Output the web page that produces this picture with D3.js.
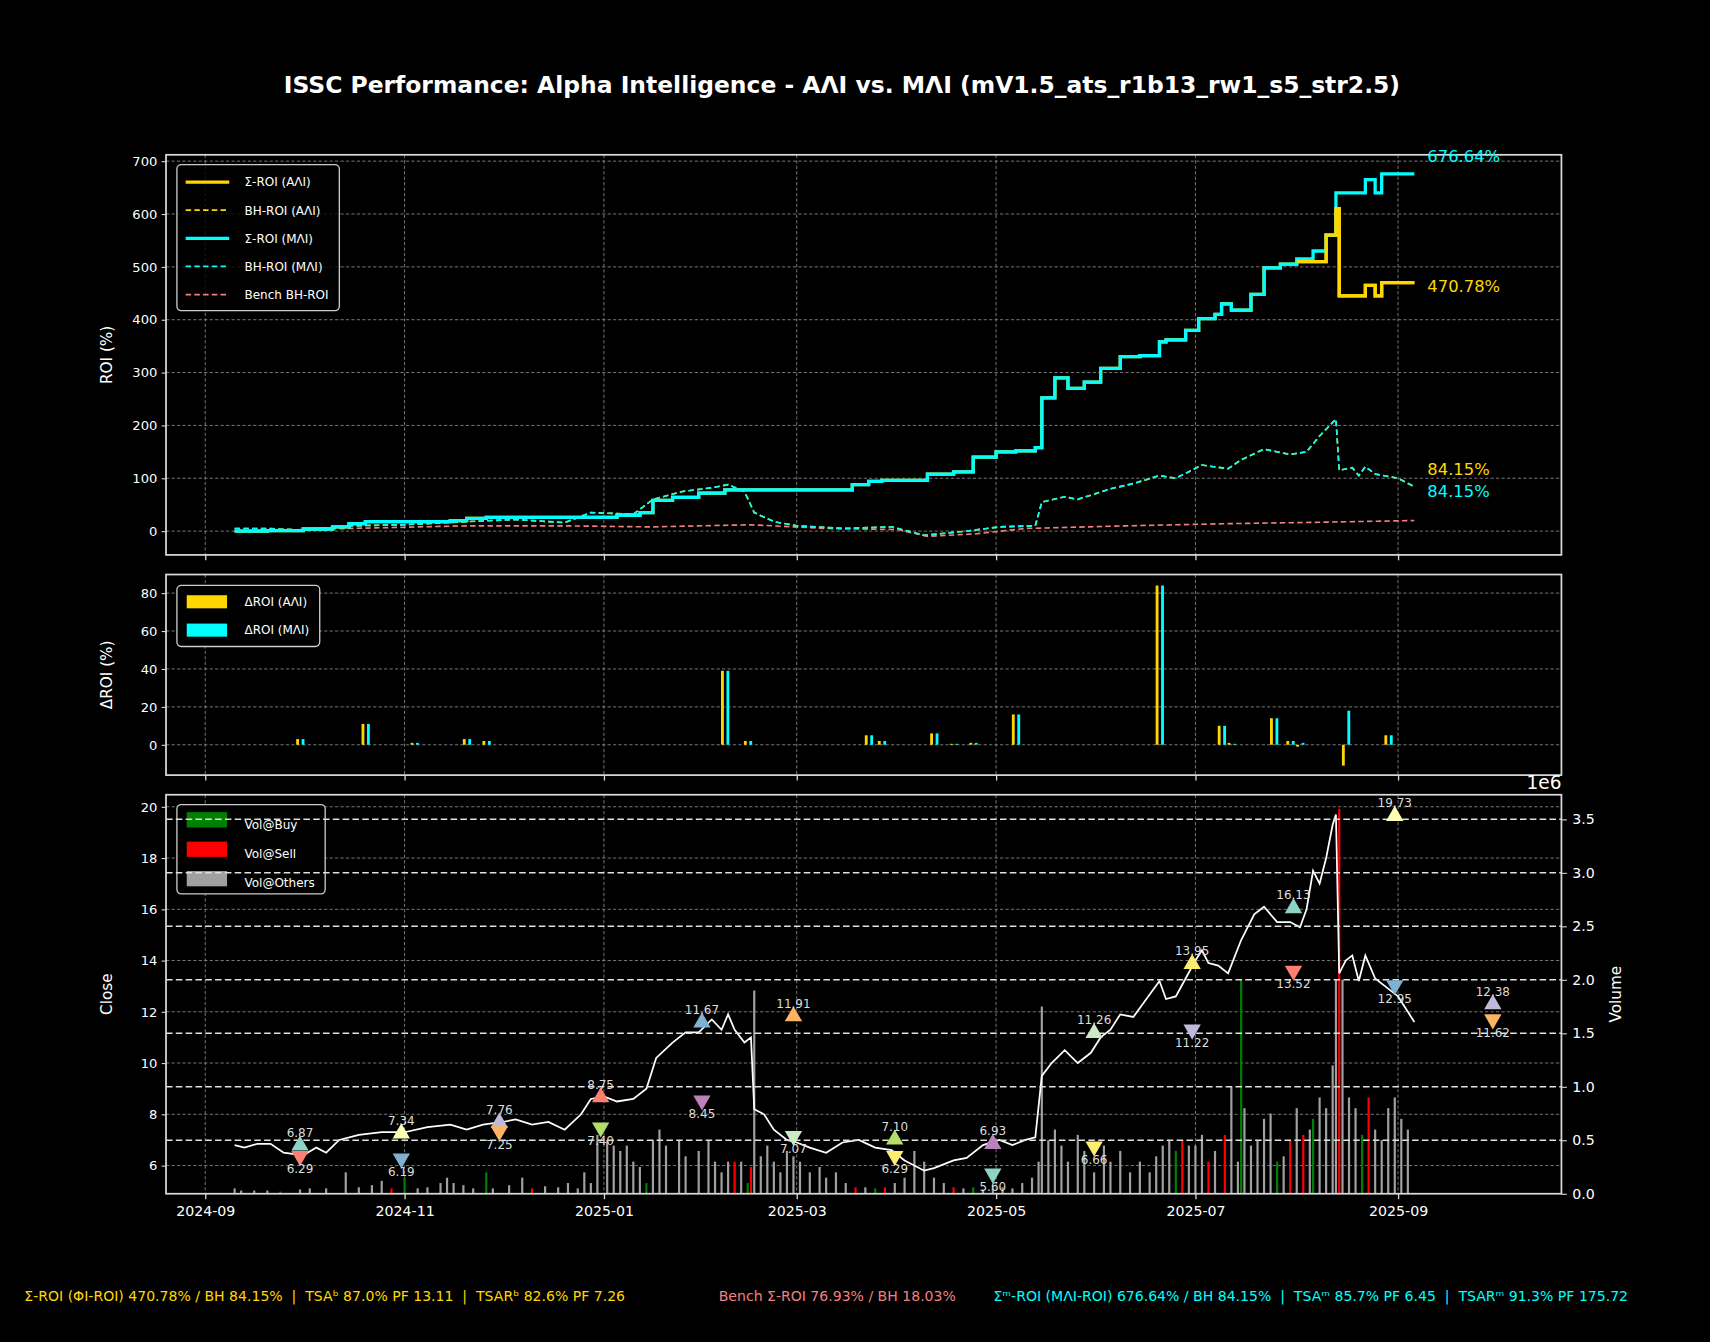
<!DOCTYPE html>
<html><head><meta charset="utf-8">
<script src="https://cdn.jsdelivr.net/npm/d3@7"></script>
<style>html,body{margin:0;background:#000;}svg{display:block;font-family:"DejaVu Sans",sans-serif;}</style>
</head><body>
<svg id="c" width="1710" height="1342" viewBox="0 0 1568 1231"></svg>
<script>
// ---------- DATA ----------
const roiDates = ["2024-09-10","2024-09-20","2024-10-01","2024-10-10","2024-10-15","2024-10-20","2024-11-01","2024-11-15","2024-11-20","2024-11-26","2024-12-10","2024-12-24","2025-01-05","2025-01-12","2025-01-16","2025-01-22","2025-01-30","2025-02-07","2025-02-14","2025-03-10","2025-03-18","2025-03-23","2025-03-27","2025-04-10","2025-04-18","2025-04-24","2025-05-01","2025-05-07","2025-05-13","2025-05-15","2025-05-19","2025-05-23","2025-05-28","2025-06-02","2025-06-08","2025-06-14","2025-06-20","2025-06-22","2025-06-28","2025-07-02","2025-07-07","2025-07-09","2025-07-12","2025-07-18","2025-07-22","2025-07-27","2025-08-01","2025-08-06","2025-08-10","2025-08-13","2025-08-14","2025-08-20","2025-08-22","2025-08-25","2025-08-27","2025-09-06"];
const roiMAI   = [0,1,4,8,14,18,18,20,24,26,26,26,30,35,58,64,72,78,78,78,88,94,96,108,112,140,150,152,158,252,290,270,282,308,330,332,358,362,380,402,410,430,418,448,498,505,515,530,560,640,640,640,665,640,676,676];
const roiAAI   = [0,1,4,8,14,18,18,20,24,26,26,26,30,35,58,64,72,78,78,78,88,94,96,108,112,140,150,152,158,252,290,270,282,308,330,332,358,362,380,402,410,430,418,448,498,505,510,510,560,610,445,445,465,445,470,470];

const bhDates = ["2024-09-10","2024-09-20","2024-10-01","2024-10-15","2024-11-01","2024-11-20","2024-12-05","2024-12-20","2024-12-28","2025-01-10","2025-01-16","2025-01-25","2025-02-03","2025-02-08","2025-02-13","2025-02-16","2025-02-22","2025-03-01","2025-03-15","2025-03-30","2025-04-09","2025-04-22","2025-05-02","2025-05-13","2025-05-15","2025-05-22","2025-05-26","2025-06-05","2025-06-12","2025-06-20","2025-06-25","2025-07-03","2025-07-11","2025-07-15","2025-07-22","2025-07-30","2025-08-04","2025-08-08","2025-08-13","2025-08-14","2025-08-18","2025-08-20","2025-08-22","2025-08-25","2025-09-01","2025-09-06"];
const bhROI = [5,5,2,10,12,18,22,16,35,32,60,75,82,88,75,35,18,10,5,8,-8,0,8,10,55,65,60,80,90,105,100,125,118,135,155,145,150,180,212,115,120,105,122,108,100,84];

const benchDates = ["2024-09-10","2024-10-15","2024-11-20","2024-12-20","2025-01-15","2025-02-15","2025-03-10","2025-04-01","2025-04-10","2025-04-25","2025-05-10","2025-06-10","2025-07-10","2025-08-10","2025-09-06"];
const benchROI = [0,5,10,10,8,12,5,3,-10,-5,5,10,14,17,20];

const dDates = ["2024-09-30","2024-10-20","2024-11-04","2024-11-20","2024-11-26","2025-02-07","2025-02-14","2025-03-23","2025-03-27","2025-04-12","2025-04-18","2025-04-24","2025-05-07","2025-06-20","2025-07-09","2025-07-12","2025-07-25","2025-07-30","2025-08-02","2025-08-16","2025-08-29"];
const dAAI = [3,11,1,3,2,39,2,5,2,6,0.5,1,16,84,10,1,14,2,-1,-11,5];
const dMAI = [3,11,1,3,2,39,2,5,2,6,0.5,1,16,84,10,0.5,14,2,1,18,5];

const pxDates = ["2024-09-10","2024-09-13","2024-09-17","2024-09-21","2024-09-25","2024-10-01","2024-10-05","2024-10-08","2024-10-12","2024-10-18","2024-10-25","2024-11-01","2024-11-08","2024-11-15","2024-11-20","2024-11-25","2024-12-01","2024-12-05","2024-12-10","2024-12-15","2024-12-20","2024-12-25","2024-12-28","2025-01-01","2025-01-05","2025-01-10","2025-01-14","2025-01-17","2025-01-22","2025-01-26","2025-01-30","2025-02-03","2025-02-06","2025-02-08","2025-02-10","2025-02-13","2025-02-15","2025-02-16","2025-02-19","2025-02-22","2025-02-26","2025-03-01","2025-03-05","2025-03-10","2025-03-15","2025-03-20","2025-03-25","2025-03-30","2025-04-03","2025-04-06","2025-04-09","2025-04-12","2025-04-18","2025-04-22","2025-04-27","2025-05-02","2025-05-06","2025-05-10","2025-05-13","2025-05-15","2025-05-18","2025-05-22","2025-05-26","2025-05-30","2025-06-02","2025-06-05","2025-06-08","2025-06-12","2025-06-16","2025-06-20","2025-06-22","2025-06-25","2025-06-28","2025-07-01","2025-07-03","2025-07-05","2025-07-08","2025-07-11","2025-07-15","2025-07-19","2025-07-22","2025-07-26","2025-07-30","2025-08-02","2025-08-04","2025-08-06","2025-08-08","2025-08-10","2025-08-12","2025-08-13","2025-08-14","2025-08-16","2025-08-18","2025-08-20","2025-08-22","2025-08-25","2025-08-28","2025-09-01","2025-09-04","2025-09-06"];
const close = [6.8,6.7,6.85,6.85,6.5,6.4,6.7,6.5,7.0,7.2,7.3,7.3,7.5,7.6,7.4,7.6,7.7,7.8,7.6,7.7,7.4,8.0,8.6,8.7,8.5,8.6,9.0,10.2,10.8,11.2,11.2,11.7,11.3,11.9,11.3,10.8,11.0,8.2,8.0,7.4,7.0,6.9,6.7,6.5,6.9,7.0,6.7,6.6,6.2,6.0,5.8,5.9,6.2,6.3,6.8,7.0,6.8,7.0,7.1,9.5,10.0,10.5,10.0,10.4,11.0,11.3,11.9,11.8,12.5,13.2,12.5,12.6,13.3,14.0,14.4,13.9,13.8,13.5,14.8,15.8,16.1,15.5,15.5,15.3,16.0,17.5,17.0,18.0,19.3,19.7,13.5,14.0,14.2,13.2,14.2,13.3,13.0,12.6,12.0,11.6];

const volDates = ["2024-09-10","2024-09-12","2024-09-16","2024-09-20","2024-09-24","2024-09-30","2024-10-03","2024-10-08","2024-10-14","2024-10-18","2024-10-22","2024-10-25","2024-10-28","2024-11-01","2024-11-05","2024-11-08","2024-11-12","2024-11-14","2024-11-16","2024-11-19","2024-11-22","2024-11-26","2024-11-28","2024-12-03","2024-12-07","2024-12-10","2024-12-14","2024-12-18","2024-12-21","2024-12-24","2024-12-26","2024-12-28","2024-12-30","2025-01-02","2025-01-04","2025-01-06","2025-01-08","2025-01-10","2025-01-12","2025-01-14","2025-01-16","2025-01-18","2025-01-20","2025-01-24","2025-01-26","2025-01-30","2025-02-02","2025-02-04","2025-02-06","2025-02-08","2025-02-10","2025-02-12","2025-02-14","2025-02-15","2025-02-16","2025-02-18","2025-02-20","2025-02-22","2025-02-24","2025-02-26","2025-02-28","2025-03-02","2025-03-05","2025-03-08","2025-03-10","2025-03-13","2025-03-16","2025-03-19","2025-03-22","2025-03-25","2025-03-28","2025-03-31","2025-04-03","2025-04-06","2025-04-09","2025-04-12","2025-04-15","2025-04-18","2025-04-21","2025-04-24","2025-04-27","2025-04-30","2025-05-03","2025-05-06","2025-05-09","2025-05-12","2025-05-14","2025-05-15","2025-05-17","2025-05-19","2025-05-21","2025-05-23","2025-05-26","2025-05-28","2025-05-31","2025-06-03","2025-06-05","2025-06-08","2025-06-11","2025-06-14","2025-06-17","2025-06-19","2025-06-21","2025-06-23","2025-06-25","2025-06-27","2025-06-29","2025-07-01","2025-07-03","2025-07-05","2025-07-07","2025-07-10","2025-07-12","2025-07-14","2025-07-15","2025-07-16","2025-07-18","2025-07-20","2025-07-22","2025-07-24","2025-07-26","2025-07-28","2025-07-30","2025-08-01","2025-08-03","2025-08-05","2025-08-06","2025-08-08","2025-08-10","2025-08-12","2025-08-13","2025-08-14","2025-08-15","2025-08-17","2025-08-19","2025-08-21","2025-08-23","2025-08-25","2025-08-27","2025-08-29","2025-08-31","2025-09-02","2025-09-04"];
const volume = [0.05,0.03,0.03,0.03,0.02,0.04,0.05,0.05,0.2,0.06,0.08,0.12,0.05,0.15,0.05,0.06,0.1,0.15,0.1,0.08,0.05,0.2,0.05,0.08,0.15,0.05,0.07,0.06,0.1,0.05,0.2,0.1,0.55,0.5,0.45,0.4,0.45,0.3,0.25,0.1,0.5,0.6,0.45,0.5,0.35,0.4,0.5,0.3,0.2,0.3,0.3,0.3,0.1,0.25,1.9,0.35,0.45,0.3,0.2,0.4,0.35,0.3,0.2,0.25,0.15,0.2,0.1,0.06,0.06,0.05,0.06,0.1,0.15,0.4,0.3,0.15,0.1,0.06,0.05,0.06,0.04,0.05,0.06,0.05,0.1,0.15,0.3,1.75,0.5,0.6,0.45,0.3,0.55,0.4,0.2,0.45,0.3,0.4,0.2,0.3,0.2,0.35,0.45,0.5,0.4,0.5,0.45,0.45,0.55,0.3,0.4,0.55,1.0,0.3,2.0,0.8,0.45,0.5,0.7,0.75,0.3,0.35,0.5,0.8,0.55,0.6,0.7,0.9,0.8,1.2,2.0,3.6,2.0,0.9,0.8,0.55,0.9,0.6,0.5,0.8,0.9,0.7,0.6];
const volType = ["o","o","o","o","b","o","o","o","o","o","o","o","s","b","o","o","o","o","o","o","o","b","o","o","o","s","o","o","o","o","o","o","o","o","o","o","o","o","o","b","o","o","o","o","o","o","o","o","o","o","s","o","b","s","o","o","o","o","o","o","o","o","o","o","o","o","o","s","o","b","s","o","o","o","o","o","o","s","o","b","o","o","o","o","o","o","o","o","o","o","o","o","o","o","o","o","o","o","o","o","o","o","o","o","b","s","o","o","o","s","o","s","o","o","b","o","o","o","o","o","b","o","s","o","s","o","b","o","o","o","o","s","o","o","o","b","s","o","o","o","o","o","o"];

const sigDates = ["2024-09-30","2024-10-31","2024-11-30","2024-12-31","2025-01-31","2025-02-28","2025-03-31","2025-04-30","2025-05-31","2025-06-30","2025-07-31","2025-08-31","2025-09-30"];
const sigHigh = [6.87,7.34,7.76,8.75,11.67,11.91,7.10,6.93,11.26,13.95,16.13,19.73,12.38];
const sigLow  = [6.29,6.19,7.25,7.40,8.45,7.07,6.29,5.60,6.66,11.22,13.52,12.95,11.62];
const sigHighColor = ["#8dd3c7","#ffffb3","#bebada","#fb8072","#80b1d3","#fdb462","#b3de69","#bc80bd","#ccebc5","#ffed6f","#8dd3c7","#ffffb3","#bebada"];
const sigLowColor  = ["#fb8072","#80b1d3","#fdb462","#b3de69","#bc80bd","#ccebc5","#ffed6f","#8dd3c7","#ffed6f","#bebada","#fb8072","#80b1d3","#fdb462"];

const roiTicks = [0,100,200,300,400,500,600,700];
const dTicks = [0,20,40,60,80];
const pxTicks = [6,8,10,12,14,16,18,20];
const volTicks = [0,0.5,1,1.5,2,2.5,3,3.5];
const monthTicks = ["2024-09","2024-11","2025-01","2025-03","2025-05","2025-07","2025-09"];
const endLabels = ["676.64%","470.78%","84.15%","84.15%"];

// ---------- DRAW ----------
const P = d3.timeParse("%Y-%m-%d"), PM = d3.timeParse("%Y-%m");
const svg = d3.select("#c");
const YEL="#FFD700", CY="#00FFFF", BEN="#F08080", FR="#d9d9d9", GR="#9a9a9a";
const L=152, R=1432;
const x = d3.scaleTime().domain([P("2024-08-20"),P("2025-10-21")]).range([L,R]);
const xt = monthTicks.map(PM);

svg.append("rect").attr("width",1568).attr("height",1231).attr("fill","#000");
svg.append("text").attr("x",772).attr("y",85).attr("text-anchor","middle").attr("fill","#fff")
  .attr("font-size",21.5).attr("font-weight","bold")
  .text("ISSC Performance: Alpha Intelligence - AΛI vs. MΛI (mV1.5_ats_r1b13_rw1_s5_str2.5)");

function panel(top,bot,y,ticks,fmt,labelTxt,showX){
  const g=svg.append("g");
  g.selectAll(".vg").data(xt).join("line").attr("x1",d=>x(d)).attr("x2",d=>x(d)).attr("y1",top).attr("y2",bot)
    .attr("stroke",GR).attr("stroke-width",0.7).attr("stroke-dasharray","3,2");
  g.selectAll(".hg").data(ticks).join("line").attr("x1",L).attr("x2",R).attr("y1",d=>y(d)).attr("y2",d=>y(d))
    .attr("stroke",GR).attr("stroke-width",0.7).attr("stroke-dasharray","3,2");
  const ay=svg.append("g").attr("transform",`translate(${L},0)`).call(d3.axisLeft(y).tickValues(ticks).tickFormat(fmt).tickSize(4).tickPadding(4));
  ay.select(".domain").remove(); ay.selectAll("line").attr("stroke",FR);
  ay.selectAll("text").attr("fill","#fff").attr("font-size",12).attr("font-family","DejaVu Sans");
  const ax=svg.append("g").attr("transform",`translate(0,${bot})`).call(d3.axisBottom(x).tickValues(xt).tickFormat(showX?d3.timeFormat("%Y-%m"):"").tickSize(5).tickPadding(6));
  ax.select(".domain").remove(); ax.selectAll("line").attr("stroke",FR).attr("stroke-width",1.2);
  ax.selectAll("text").attr("fill","#fff").attr("font-size",13).attr("font-family","DejaVu Sans");
  svg.append("text").attr("transform",`translate(102,${(top+bot)/2}) rotate(-90)`).attr("text-anchor","middle")
    .attr("fill","#fff").attr("font-size",14).text(labelTxt);
  return g;
}
function frame(top,bot){
  svg.append("rect").attr("x",L).attr("y",top).attr("width",R-L).attr("height",bot-top).attr("fill","none").attr("stroke",FR).attr("stroke-width",1.6);
}
const ln=(dates,vals,y)=>d3.line().x((d,i)=>x(P(dates[i]))).y(d=>y(d))(vals);
const lnStep=(dates,vals,y)=>d3.line().curve(d3.curveStepAfter).x((d,i)=>x(P(dates[i]))).y(d=>y(d))(vals);

// Panel 1
const y1=d3.scaleLinear().domain([-45,712]).range([509,142]);
const g1=panel(142,509,y1,roiTicks,d3.format("d"),"ROI (%)",false);
g1.append("path").attr("d",ln(benchDates,benchROI,y1)).attr("fill","none").attr("stroke",BEN).attr("stroke-width",1.5).attr("stroke-dasharray","5,3");
g1.append("path").attr("d",ln(bhDates,bhROI,y1)).attr("fill","none").attr("stroke",YEL).attr("stroke-width",1.5).attr("stroke-dasharray","5,3");
g1.append("path").attr("d",ln(bhDates,bhROI,y1)).attr("fill","none").attr("stroke",CY).attr("stroke-width",1.5).attr("stroke-dasharray","5,3");
g1.append("path").attr("d",lnStep(roiDates,roiAAI,y1)).attr("fill","none").attr("stroke",YEL).attr("stroke-width",3);
g1.append("path").attr("d",lnStep(roiDates,roiMAI,y1)).attr("fill","none").attr("stroke",CY).attr("stroke-width",3);
const div0=roiDates.indexOf("2025-08-01");
g1.append("path").attr("d",lnStep(roiDates.slice(div0),roiAAI.slice(div0),y1)).attr("fill","none").attr("stroke",YEL).attr("stroke-width",3);
frame(142,509);
[[CY,144],[YEL,263],[YEL,431],[CY,451]].forEach((a,i)=>svg.append("text").attr("x",1309).attr("y",a[1]+5).attr("fill",a[0]).attr("font-size",15).text(endLabels[i]));
// legend 1
const lg1=svg.append("g");
lg1.append("rect").attr("x",162).attr("y",151).attr("width",149).attr("height",134).attr("rx",4).attr("fill","#000").attr("fill-opacity",0.8).attr("stroke","#ccc").attr("stroke-width",1.2);
const l1=[["Σ-ROI (AΛI)",YEL,3,null],["BH-ROI (AΛI)",YEL,1.5,"5,3"],["Σ-ROI (MΛI)",CY,3,null],["BH-ROI (MΛI)",CY,1.5,"5,3"],["Bench BH-ROI",BEN,1.5,"5,3"]];
l1.forEach((d,i)=>{const yy=167+i*25.8;
  lg1.append("line").attr("x1",170).attr("x2",210).attr("y1",yy).attr("y2",yy).attr("stroke",d[1]).attr("stroke-width",d[2]).attr("stroke-dasharray",d[3]);
  lg1.append("text").attr("x",224).attr("y",yy+4).attr("fill","#fff").attr("font-size",11).text(d[0]);});

// Panel 2
const y2=d3.scaleLinear().domain([-16,89.8]).range([711,527]);
const g2=panel(527,711,y2,dTicks,d3.format("d"),"ΔROI (%)",false);
g2.selectAll(".ba").data(dAAI).join("rect").attr("x",(d,i)=>x(P(dDates[i]))-3.5).attr("width",2.6)
  .attr("y",d=>y2(Math.max(0,d))).attr("height",d=>Math.abs(y2(0)-y2(d))).attr("fill",YEL);
g2.selectAll(".bm").data(dMAI).join("rect").attr("x",(d,i)=>x(P(dDates[i]))+1.5).attr("width",2.6)
  .attr("y",d=>y2(Math.max(0,d))).attr("height",d=>Math.abs(y2(0)-y2(d))).attr("fill",CY);
frame(527,711);
const lg2=svg.append("g");
lg2.append("rect").attr("x",162).attr("y",537).attr("width",131).attr("height",56).attr("rx",4).attr("fill","#000").attr("stroke","#ccc").attr("stroke-width",1.2);
[["ΔROI (AΛI)",YEL],["ΔROI (MΛI)",CY]].forEach((d,i)=>{const yy=552+i*26;
  lg2.append("rect").attr("x",171).attr("y",yy-6).attr("width",37).attr("height",12).attr("fill",d[1]);
  lg2.append("text").attr("x",224).attr("y",yy+4).attr("fill","#fff").attr("font-size",11).text(d[0]);});

// Panel 3
const y3=d3.scaleLinear().domain([4.9,20.47]).range([1095,729]);
const yv=d3.scaleLinear().domain([0,3.73]).range([1095,729]);
const g3=panel(729,1095,y3,pxTicks,d3.format("d"),"Close",true);
const vcol={o:"#a0a0a0",b:"#008000",s:"#ff0000"};
g3.selectAll(".v").data(volume).join("rect").attr("x",(d,i)=>x(P(volDates[i]))-1).attr("width",2)
  .attr("y",d=>yv(d)).attr("height",d=>yv(0)-yv(d)).attr("fill",(d,i)=>vcol[volType[i]]);
g3.append("path").attr("d",ln(pxDates,close,y3)).attr("fill","none").attr("stroke","#fff").attr("stroke-width",1.6);
const lg3=svg.append("g");
lg3.append("rect").attr("x",162).attr("y",738).attr("width",136).attr("height",82).attr("rx",4).attr("fill","#000").attr("stroke","#ccc").attr("stroke-width",1.2);
[["Vol@Buy","#008000"],["Vol@Sell","#ff0000"],["Vol@Others","#a0a0a0"]].forEach((d,i)=>{const yy=752+i*27;
  lg3.append("rect").attr("x",171).attr("y",yy-7).attr("width",37).attr("height",14).attr("fill",d[1]);
  lg3.append("text").attr("x",224).attr("y",yy+8).attr("fill","#fff").attr("font-size",11).text(d[0]);});
svg.selectAll(".vgr").data(volTicks.slice(1)).join("line").attr("x1",L).attr("x2",R).attr("y1",d=>yv(d)).attr("y2",d=>yv(d))
  .attr("stroke","#e0e0e0").attr("stroke-width",1.4).attr("stroke-dasharray","6,3");
const tri=d3.symbol().type(d3.symbolTriangle).size(110);
const sg=svg.append("g");
sigHigh.forEach((v,i)=>{const cx=x(P(sigDates[i])), cy=y3(v);
  sg.append("path").attr("d",tri).attr("transform",`translate(${cx},${cy+2})`).attr("fill",sigHighColor[i]);
  sg.append("text").attr("x",cx).attr("y",cy-6).attr("text-anchor","middle").attr("fill","#ddd").attr("font-size",11).text(v.toFixed(2));});
sigLow.forEach((v,i)=>{const cx=x(P(sigDates[i])), cy=y3(v);
  sg.append("path").attr("d",tri).attr("transform",`translate(${cx},${cy-2}) rotate(180)`).attr("fill",sigLowColor[i]);
  sg.append("text").attr("x",cx).attr("y",cy+14).attr("text-anchor","middle").attr("fill","#ddd").attr("font-size",11).text(v.toFixed(2));});
frame(729,1095);
const ar=svg.append("g").attr("transform",`translate(${R},0)`).call(d3.axisRight(yv).tickValues(volTicks).tickFormat(d3.format(".1f")).tickSize(5).tickPadding(5));
ar.select(".domain").remove(); ar.selectAll("line").attr("stroke",FR);
ar.selectAll("text").attr("fill","#fff").attr("font-size",13).attr("font-family","DejaVu Sans");
svg.append("text").attr("x",1432).attr("y",724).attr("text-anchor","end").attr("fill","#fff").attr("font-size",17).text("1e6");
svg.append("text").attr("transform",`translate(1487,912) rotate(-90)`).attr("text-anchor","middle").attr("fill","#fff").attr("font-size",14).text("Volume");

// footer
const ft=[[22,YEL,"Σ-ROI (ΦI-ROI) 470.78% / BH 84.15%  |  TSAᵇ 87.0% PF 13.11  |  TSARᵇ 82.6% PF 7.26"],
          [659,BEN,"Bench Σ-ROI 76.93% / BH 18.03%"],
          [911,CY,"Σᵐ-ROI (MΛI-ROI) 676.64% / BH 84.15%  |  TSAᵐ 85.7% PF 6.45  |  TSARᵐ 91.3% PF 175.72"]];
ft.forEach(f=>svg.append("text").attr("x",f[0]).attr("y",1193).attr("fill",f[1]).attr("font-size",12.9).style("white-space","pre").text(f[2]));
</script>
</body></html>
